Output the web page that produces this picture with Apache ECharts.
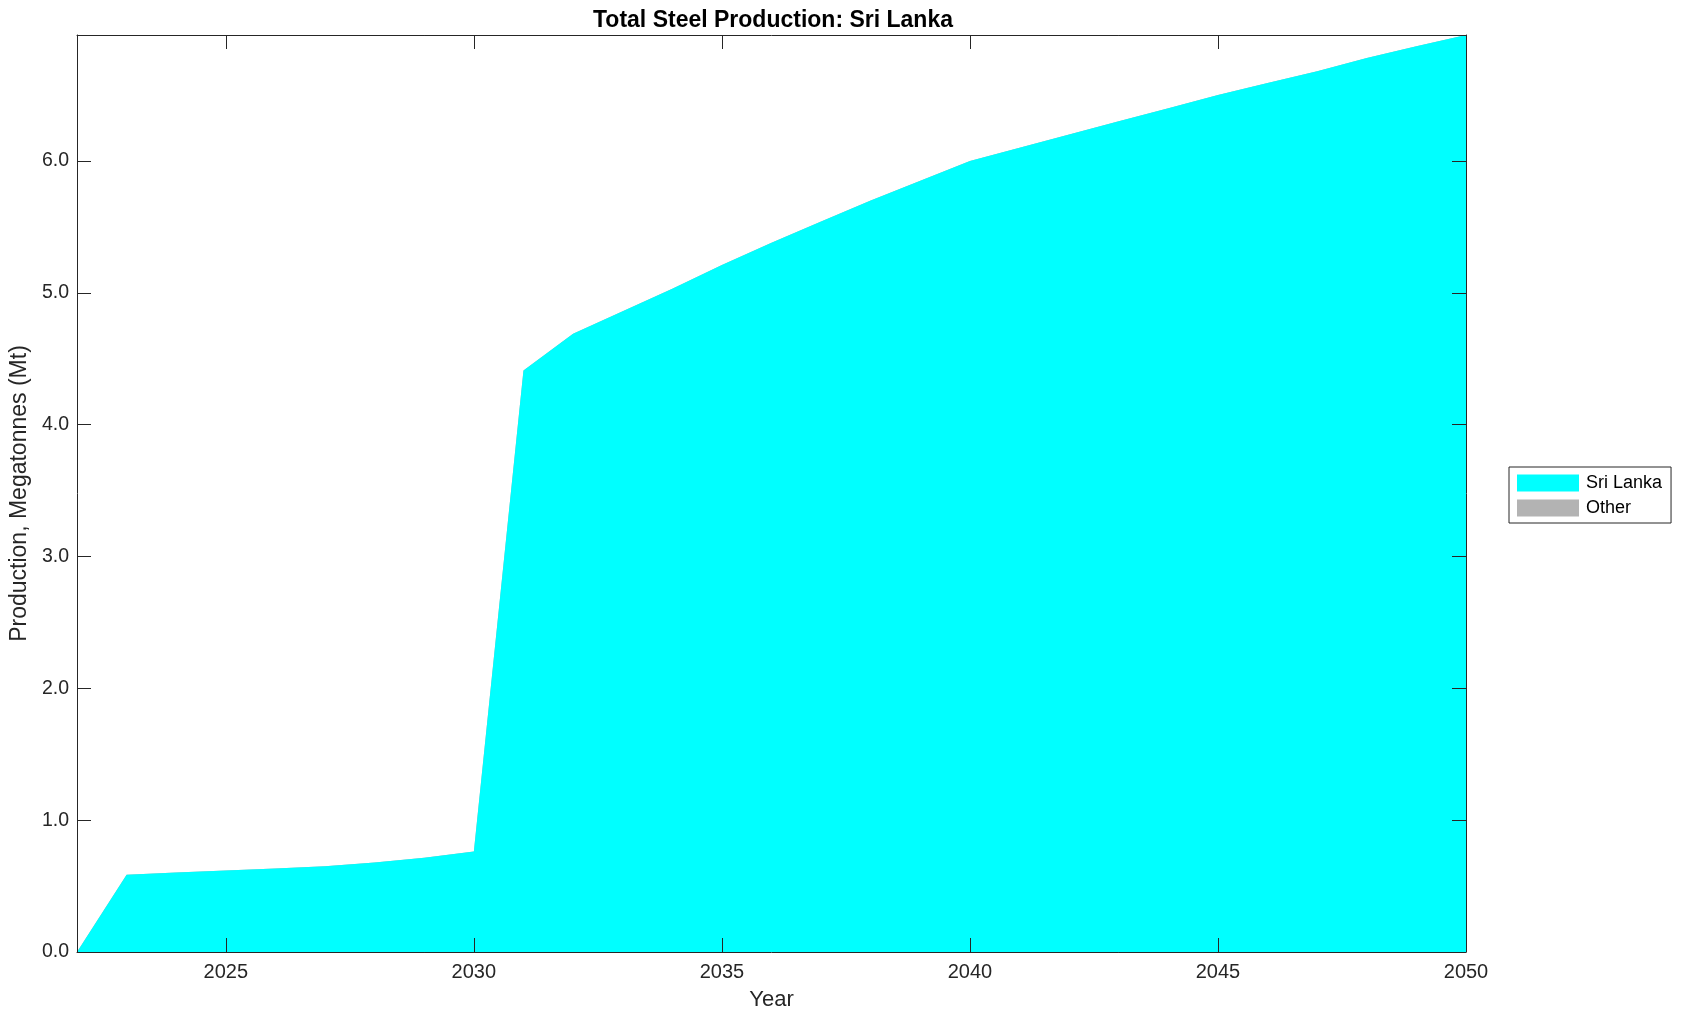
<!DOCTYPE html>
<html>
<head>
<meta charset="utf-8">
<script src="https://cdn.jsdelivr.net/npm/echarts@6/dist/echarts.min.js"></script>
<style>
html,body{margin:0;padding:0;background:#fff;}
#chart{width:1683px;height:1021px;}
</style>
</head>
<body>
<div id="chart"></div>
<script>
const years = [2022,2023,2024,2025,2026,2027,2028,2029,2030,2031,2032,2033,2034,2035,2036,2037,2038,2039,2040,2041,2042,2043,2044,2045,2046,2047,2048,2049,2050];
const sriLanka = [0,0.585,0.603,0.618,0.634,0.651,0.679,0.715,0.763,4.41,4.69,4.86,5.03,5.21,5.38,5.54,5.70,5.85,6.00,6.10,6.20,6.30,6.40,6.50,6.59,6.68,6.78,6.87,6.955];
const other = [0,0,0,0,0,0,0,0,0,0,0,0,0,0,0,0,0,0,0,0,0,0,0,0,0,0,0,0,0];
const xTicks = [2025,2030,2035,2040,2045,2050];
const yTicks = [0,1,2,3,4,5,6];
const seriesNames = ['Sri Lanka','Other'];

const FONT = '"Liberation Sans", Arial, Helvetica, sans-serif';
const AX = '#262626';

const chart = echarts.init(document.getElementById('chart'), null, {renderer:'canvas'});

function xAxisCfg(pos, labels){
  return {
    type:'value', min:2022, max:2050, position:pos, z:10,
    axisLine:{show:true, onZero:false, lineStyle:{color:AX, width:1}},
    axisTick:{show:true, inside:true, length:14, customValues:xTicks, lineStyle:{color:AX, width:1}},
    axisLabel:{show:labels, customValues:xTicks, fontSize:20, color:AX, margin:10, fontFamily:FONT,
      formatter:function(v){return String(v);}},
    splitLine:{show:false},
    name: labels ? 'Year' : '', nameLocation:'middle', nameGap:37,
    nameTextStyle:{fontSize:22, color:AX, fontFamily:FONT}
  };
}
function yAxisCfg(pos, labels){
  return {
    type:'value', min:0, max:6.955, position:pos, z:10,
    axisLine:{show:true, onZero:false, lineStyle:{color:AX, width:1}},
    axisTick:{show:true, inside:true, length:14, customValues:yTicks, lineStyle:{color:AX, width:1}},
    axisLabel:{show:labels, customValues:yTicks, fontSize:19.5, color:AX, margin:8, fontFamily:FONT,
      formatter:function(v){return Number(v).toFixed(1);}},
    splitLine:{show:false},
    name: labels ? 'Production, Megatonnes (Mt)' : '', nameLocation:'middle', nameGap:41, nameRotate:90,
    nameTextStyle:{fontSize:23, color:AX, fontFamily:FONT}
  };
}

const option = {
  animation:false,
  backgroundColor:'#ffffff',
  title:{
    text:'Total Steel Production: Sri Lanka',
    left:768, top:4, textAlign:'center',
    textStyle:{fontSize:23, fontWeight:'bold', color:'#000', fontFamily:FONT}
  },
  grid:{left:76, right:217, top:35, bottom:69, containLabel:false},
  legend:{
    orient:'vertical', left:1509, top:467,
    data:seriesNames,
    icon:'rect', itemWidth:62, itemHeight:17, itemGap:7,
    borderColor:AX, borderWidth:1, borderRadius:0,
    padding:[7,9,6,8],
    textStyle:{fontSize:18, color:'#000', lineHeight:17, fontFamily:FONT, padding:[0,0,0,2]}
  },
  xAxis:[xAxisCfg('bottom', true), xAxisCfg('top', false)],
  yAxis:[yAxisCfg('left', true), yAxisCfg('right', false)],
  series:[
    {
      name:seriesNames[0], type:'line', xAxisIndex:0, yAxisIndex:0,
      data:years.map((y,i)=>[y, sriLanka[i]]),
      symbol:'none', showSymbol:false,
      itemStyle:{color:'#00ffff'},
      lineStyle:{width:0, color:'#00ffff'},
      areaStyle:{color:'#00ffff', opacity:1},
      z:2
    },
    {
      name:seriesNames[1], type:'line', xAxisIndex:0, yAxisIndex:0,
      data:years.map((y,i)=>[y, sriLanka[i] + other[i]]),
      symbol:'none', showSymbol:false,
      itemStyle:{color:'#b3b3b3'},
      lineStyle:{width:0, color:'#b3b3b3'},
      areaStyle:{color:'#b3b3b3', opacity:1, origin:'start'},
      z:1
    }
  ]
};
chart.setOption(option);
</script>
</body>
</html>
